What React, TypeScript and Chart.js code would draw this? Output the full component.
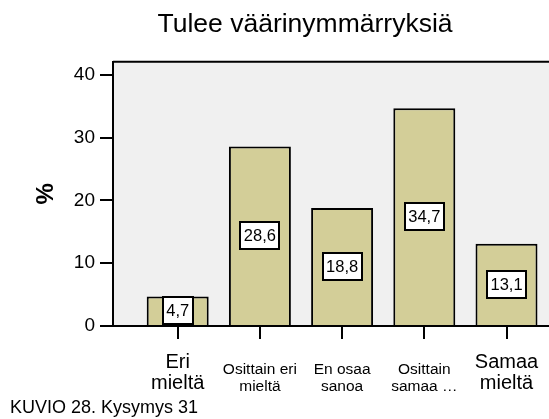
import React, { useEffect, useRef } from 'react';
import { Chart, registerables } from 'chart.js';

Chart.register(...registerables);

const TITLE = 'Tulee väärinymmärryksiä';
const CATEGORIES: string[][] = [
  ['Eri', 'mieltä'],
  ['Osittain eri', 'mieltä'],
  ['En osaa', 'sanoa'],
  ['Osittain', 'samaa …'],
  ['Samaa', 'mieltä'],
];
const VALUES: number[] = [4.7, 28.6, 18.8, 34.7, 13.1];
const Y_TICKS: number[] = [0, 10, 20, 30, 40];
const Y_LABEL = '%';
const FOOTER = 'KUVIO 28. Kysymys 31';

const FONT = "'Liberation Sans', Arial, Helvetica, sans-serif";
const BAR_COLOR = '#D3CE98';
const PLOT_BG = '#F0F0F0';

const framePlugin = {
  id: 'frame',
  beforeDraw(chart: any) {
    const { ctx, chartArea } = chart;
    const { left, top, right, bottom } = chartArea;
    ctx.save();
    ctx.fillStyle = PLOT_BG;
    ctx.fillRect(left, top, right - left, bottom - top);
    ctx.strokeStyle = '#000';
    ctx.lineWidth = 2;
    ctx.beginPath();
    ctx.moveTo(left, top);
    ctx.lineTo(right, top);
    ctx.stroke();
    ctx.restore();
  },
};

const valueBoxPlugin = {
  id: 'valueBoxes',
  afterDatasetsDraw(chart: any) {
    const { ctx } = chart;
    const meta = chart.getDatasetMeta(0);
    ctx.save();
    ctx.font = `16.5px ${FONT}`;
    meta.data.forEach((bar: any, i: number) => {
      const { x, y, base } = bar.getProps(['x', 'y', 'base'], true);
      const cy = (y + base) / 2;
      const text = VALUES[i].toFixed(1).replace('.', ',');
      const w = Math.round(ctx.measureText(text).width + 7);
      const h = 27;
      const bx = Math.round(x - w / 2);
      const by = Math.round(cy - h / 2);
      ctx.fillStyle = '#FFFFFF';
      ctx.fillRect(bx, by, w, h);
      ctx.strokeStyle = '#000';
      ctx.lineWidth = 2;
      ctx.strokeRect(bx, by, w, h);
      ctx.fillStyle = '#000';
      ctx.textAlign = 'center';
      ctx.textBaseline = 'middle';
      ctx.fillText(text, x, cy + 1);
    });
    ctx.restore();
  },
};

export default function App() {
  const canvasRef = useRef<HTMLCanvasElement | null>(null);

  useEffect(() => {
    if (!canvasRef.current) return;
    const chart = new Chart(canvasRef.current, {
      type: 'bar',
      data: {
        datasets: [
          {
            data: VALUES.map((v, i) => ({ x: i, y: v })),
            backgroundColor: BAR_COLOR,
            borderColor: '#000',
            borderWidth: 2,
            barPercentage: 0.754,
            categoryPercentage: 1,
          },
        ],
      },
      options: {
        responsive: false,
        animation: false,
        events: [],
        layout: { padding: { left: 0, right: 0, top: 0, bottom: 0 } },
        plugins: {
          legend: { display: false },
          tooltip: { enabled: false },
          title: {
            display: true,
            text: TITLE,
            color: '#000',
            font: { family: FONT, size: 26.5, weight: 'normal', lineHeight: 1.2 },
            padding: { top: 8.5, bottom: 21.5 },
          },
        },
        scales: {
          x: {
            type: 'linear',
            min: -0.787,
            max: 5.259,
            offset: false,
            afterBuildTicks: (scale: any) => {
              scale.ticks = CATEGORIES.map((_, i) => ({ value: i }));
            },
            afterFit: (scale: any) => {
              scale.height = 93;
            },
            grid: {
              display: true,
              offset: false,
              drawOnChartArea: false,
              drawTicks: true,
              tickLength: 13,
              color: '#000',
              lineWidth: 2,
            },
            border: { display: true, color: '#000', width: 2 },
            ticks: {
              autoSkip: false,
              maxRotation: 0,
              minRotation: 0,
              crossAlign: 'far',
              padding: 23,
              color: '#000',
              callback: (value: any) => CATEGORIES[Number(value)] ?? '',
              font: (ctx: any) => {
                const i = ctx.index;
                const big = i === 0 || i === CATEGORIES.length - 1;
                return big
                  ? { family: FONT, size: 20, lineHeight: 21 / 20 }
                  : { family: FONT, size: 15.5, lineHeight: 17 / 15.5 };
              },
            },
          },
          y: {
            min: 0,
            max: 42.1,
            afterBuildTicks: (scale: any) => {
              scale.ticks = Y_TICKS.map((v) => ({ value: v }));
            },
            afterFit: (scale: any) => {
              scale.width = 113;
            },
            grid: {
              display: true,
              drawOnChartArea: false,
              drawTicks: true,
              tickLength: 13,
              color: '#000',
              lineWidth: 2,
            },
            border: { display: true, color: '#000', width: 2 },
            ticks: {
              padding: 5,
              color: '#000',
              font: { family: FONT, size: 19 },
              callback: (value: any) => String(value),
            },
            title: {
              display: true,
              text: Y_LABEL,
              color: '#000',
              font: { family: FONT, size: 24, weight: 'bold', lineHeight: 1.2 },
              padding: { top: 31.6, bottom: 0 },
            },
          },
        },
      },
      plugins: [framePlugin, valueBoxPlugin],
    });
    return () => chart.destroy();
  }, []);

  return (
    <div
      style={{
        position: 'fixed',
        left: 0,
        top: 0,
        width: 549,
        height: 419,
        overflow: 'hidden',
        background: '#fff',
      }}
    >
      <canvas
        ref={canvasRef}
        width={610}
        height={419}
        style={{ display: 'block', width: 610, height: 419 }}
      />
      <div
        style={{
          position: 'absolute',
          left: 10,
          top: 398,
          fontFamily: FONT,
          fontSize: 18,
          lineHeight: '18px',
          color: '#000',
          whiteSpace: 'nowrap',
        }}
      >
        {FOOTER}
      </div>
    </div>
  );
}
